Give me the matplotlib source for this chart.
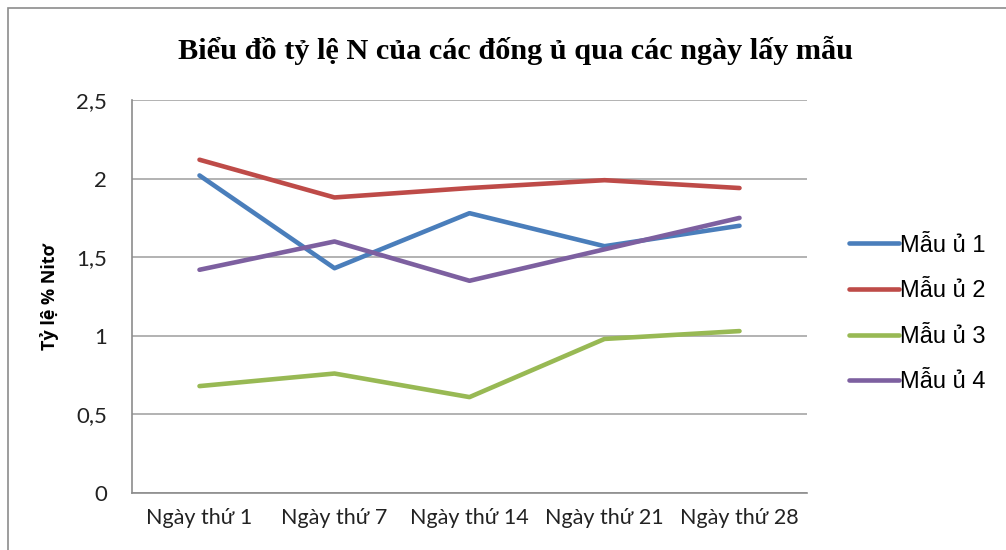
import matplotlib.pyplot as plt
from matplotlib.patches import Rectangle

# Data
days = ['Ngày thứ 1', 'Ngày thứ 7', 'Ngày thứ 14', 'Ngày thứ 21', 'Ngày thứ 28']
mau1 = [2.02, 1.43, 1.78, 1.57, 1.70]
mau2 = [2.12, 1.88, 1.94, 1.99, 1.94]
mau3 = [0.68, 0.76, 0.61, 0.98, 1.03]
mau4 = [1.42, 1.60, 1.35, 1.55, 1.75]
series_names = ['Mẫu ủ 1', 'Mẫu ủ 2', 'Mẫu ủ 3', 'Mẫu ủ 4']
colors = ['#4a7ebb', '#be4b48', '#98b954', '#7d60a0']
yticks = [0, 0.5, 1, 1.5, 2, 2.5]

fig = plt.figure(figsize=(10.06, 5.5), dpi=100)
ax = fig.add_axes([132/1006, 1 - 493/550, 675/1006, 393/550])

# outer frame of the chart
fig.patches.append(Rectangle((8/1006, -0.01), 1.2, 1.0 - 8/550 + 0.01, transform=fig.transFigure,
                             fill=False, edgecolor='#8c8c8c', linewidth=1.2))

x = range(len(days))
for vals, name, c in zip([mau1, mau2, mau3, mau4], series_names, colors):
    ax.plot(x, vals, color=c, linewidth=3.3, label=name, solid_capstyle='round')

ax.set_xlim(-0.5, len(days) - 0.5)
ax.set_ylim(0, 2.5)
ax.set_yticks(yticks)
ax.set_yticklabels([str(t).replace('.', ',') if t % 1 else str(int(t)) for t in yticks],
                   fontfamily='Lato', fontsize=16)
ax.set_xticks(list(x))
ax.set_xticklabels(days, fontfamily='Lato', fontsize=15.5)
ax.tick_params(axis='both', length=0, colors='#222222')
ax.tick_params(axis='x', pad=11)
ax.tick_params(axis='y', pad=18)
ax.grid(axis='y', color='#a6a6a6', linewidth=1.2)
ax.set_axisbelow(True)
for s in ['top', 'right']:
    ax.spines[s].set_visible(False)
for s in ['left', 'bottom']:
    ax.spines[s].set_color('#8c8c8c')
    ax.spines[s].set_linewidth(1.2)

ax.set_ylabel('Tỷ lệ % Nitơ', fontfamily='Open Sans', fontweight='bold', fontsize=13, labelpad=12)

fig.text(0.512, 1 - 50/550, 'Biểu đồ tỷ lệ N của các đống ủ qua các ngày lấy mẫu',
         ha='center', va='center', fontfamily='Liberation Serif', fontweight='bold', fontsize=21.8)

leg = fig.legend(loc='center left', bbox_to_anchor=(828/1006, 1 - 314/550), frameon=False,
                 prop={'family': 'Liberation Sans', 'size': 17}, handlelength=2.1,
                 handletextpad=0.05, labelspacing=1.0)

plt.savefig('out.png', dpi=100)
